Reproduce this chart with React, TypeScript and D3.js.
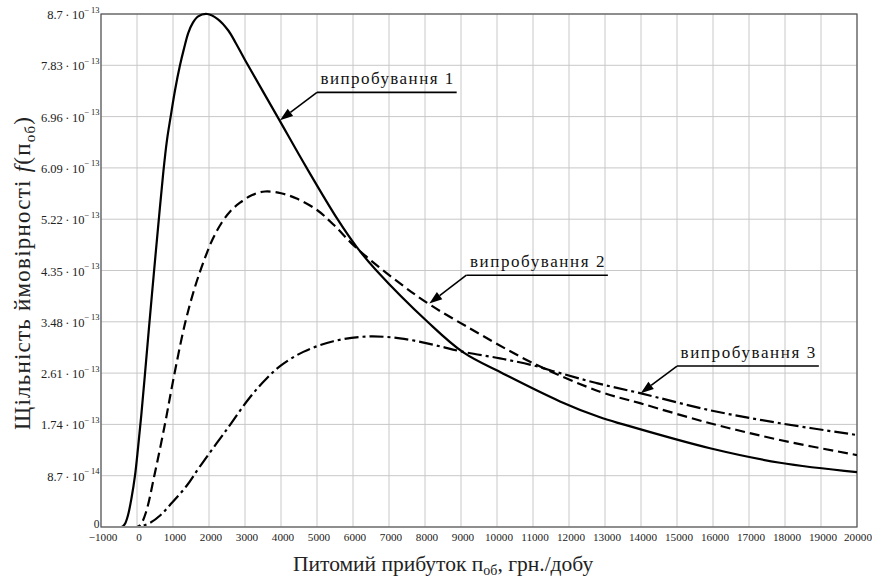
import React from "react";
import * as d3 from "d3";

const WIDTH = 872;
const HEIGHT = 580;
const PLOT = { left: 101, right: 857, top: 14, bottom: 527 };

// x axis: specific profit, UAH per day
const xDomain: [number, number] = [-1000, 20000];
const xTickValues = d3.range(-1000, 20001, 1000);
const xTickLabels = xTickValues.map((v) => (v < 0 ? `\u2212${Math.abs(v)}` : `${v}`));

// y axis: probability density, in units of 1e-13
const yDomain: [number, number] = [0, 8.7];
const yTickValues = [0, 0.87, 1.74, 2.61, 3.48, 4.35, 5.22, 6.09, 6.96, 7.83, 8.7];
const yTickMantissas = ["0", "8.7", "1.74", "2.61", "3.48", "4.35", "5.22", "6.09", "6.96", "7.83", "8.7"];
const yTickExponents = ["", "\u2212\u200914", "\u2212\u200913", "\u2212\u200913", "\u2212\u200913", "\u2212\u200913", "\u2212\u200913", "\u2212\u200913", "\u2212\u200913", "\u2212\u200913", "\u2212\u200913"];

// density curves, [profit, density·1e13]
const trial1: [number, number][] = [
  [-1000, 0], [-700, 0], [-430, 0], [-340, 0.05], [-250, 0.2], [-150, 0.5], [-56, 0.87],
  [30, 1.35], [120, 1.9], [222, 2.6], [333, 3.38], [465, 4.28], [600, 5.18], [731, 6.02],
  [830, 6.55], [935, 6.96], [1060, 7.42], [1194, 7.83], [1300, 8.1], [1425, 8.38],
  [1550, 8.55], [1700, 8.66], [1950, 8.7], [2250, 8.61], [2536, 8.42], [2750, 8.2],
  [3000, 7.92], [3900, 6.96], [4713, 6.09], [5570, 5.22], [6100, 4.75], [6650, 4.35],
  [8070, 3.48], [9065, 2.96], [10175, 2.6], [11750, 2.13], [12861, 1.86], [13508, 1.74],
  [15917, 1.335], [17861, 1.09], [20000, 0.93],
];
const trial2: [number, number][] = [
  [-1000, 0], [-300, 0], [0, 0], [100, 0.04], [250, 0.25], [481, 0.87], [778, 1.75],
  [1009, 2.5], [1333, 3.45], [1600, 4.05], [1850, 4.5], [2100, 4.88], [2352, 5.16],
  [2600, 5.36], [2861, 5.5], [3200, 5.63], [3556, 5.69], [4000, 5.66], [4435, 5.57],
  [4991, 5.38], [5454, 5.13], [6100, 4.73], [7306, 4.13], [8139, 3.77], [9157, 3.4],
  [11009, 2.776], [12861, 2.295], [13972, 2.1], [15917, 1.76], [17861, 1.475], [20000, 1.22],
];
const trial3: [number, number][] = [
  [-1000, 0], [-200, 0], [0, 0], [150, 0.02], [361, 0.07], [650, 0.2], [917, 0.373],
  [1380, 0.7], [1750, 1.03], [2500, 1.66], [3139, 2.2], [3600, 2.52], [4000, 2.74],
  [4620, 2.97], [5454, 3.15], [6380, 3.23], [7306, 3.2], [8231, 3.09], [9065, 2.97],
  [10083, 2.86], [11009, 2.74], [11750, 2.61], [12769, 2.44], [13972, 2.27], [15917, 1.98],
  [17861, 1.76], [20000, 1.56],
];

const seriesData = [trial1, trial2, trial3];
const seriesDash = ["", "10,5", "14,4,3,4"];

// callouts: label, arrow tip on the curve, shelf [x start, x end, level]
const calloutLabels = ["випробування 1", "випробування 2", "випробування 3"];
const calloutTips: [number, number][] = [[3972, 6.9], [8119, 3.79], [13992, 2.27]];
const calloutShelves: [number, number, number][] = [
  [5000, 8880, 7.37],
  [9150, 13080, 4.27],
  [15000, 18940, 2.73],
];

const SERIF = "'Liberation Serif', 'Times New Roman', serif";

export default function App() {
  const x = d3.scaleLinear().domain(xDomain).range([PLOT.left, PLOT.right]);
  const y = d3.scaleLinear().domain(yDomain).range([PLOT.bottom, PLOT.top]);

  const line = d3
    .line<[number, number]>()
    .x((d) => x(d[0]))
    .y((d) => y(d[1]))
    .curve(d3.curveCatmullRom.alpha(0.5));

  return (
    <svg
      width={WIDTH}
      height={HEIGHT}
      viewBox={`0 0 ${WIDTH} ${HEIGHT}`}
      style={{ position: "absolute", left: 0, top: 0, background: "#fff", fontFamily: SERIF }}
    >
      <defs>
        <clipPath id="plot-clip">
          <rect x={PLOT.left} y={PLOT.top - 2} width={PLOT.right - PLOT.left} height={PLOT.bottom - PLOT.top + 1} />
        </clipPath>
      </defs>

      {/* grid */}
      <g stroke="#c8c8c8" strokeWidth={1}>
        {xTickValues.map((v) => (
          <line key={`gx${v}`} x1={x(v)} x2={x(v)} y1={PLOT.top} y2={PLOT.bottom} />
        ))}
        {yTickValues.map((v) => (
          <line key={`gy${v}`} x1={PLOT.left} x2={PLOT.right} y1={y(v)} y2={y(v)} />
        ))}
      </g>

      {/* frame */}
      <rect
        x={PLOT.left}
        y={PLOT.top}
        width={PLOT.right - PLOT.left}
        height={PLOT.bottom - PLOT.top}
        fill="none"
        stroke="#555"
        strokeWidth={1.2}
      />

      {/* curves */}
      <g clipPath="url(#plot-clip)" fill="none" stroke="#000" strokeWidth={2.2} strokeLinejoin="round">
        {seriesData.map((d, i) => (
          <path key={i} d={line(d) ?? ""} strokeDasharray={seriesDash[i] || undefined} />
        ))}
      </g>

      {/* callouts */}
      {calloutLabels.map((label, i) => {
        const [tx, ty] = calloutTips[i];
        const [s0, s1, sl] = calloutShelves[i];
        const px = x(tx);
        const py = y(ty);
        const ax = x(s0);
        const ay = y(sl);
        const bx = x(s1);
        const dx = px - ax;
        const dy = py - ay;
        const len = Math.hypot(dx, dy);
        const ux = dx / len;
        const uy = dy / len;
        const headLen = 13;
        const headHalf = 4.5;
        const hx = px - ux * headLen;
        const hy = py - uy * headLen;
        const head = [
          [px, py],
          [hx - uy * headHalf, hy + ux * headHalf],
          [hx + uy * headHalf, hy - ux * headHalf],
        ]
          .map((p) => p.join(","))
          .join(" ");
        return (
          <g key={label}>
            <line x1={ax} y1={ay} x2={bx} y2={ay} stroke="#000" strokeWidth={1.6} />
            <line x1={ax} y1={ay} x2={hx} y2={hy} stroke="#000" strokeWidth={1.6} />
            <polygon points={head} fill="#000" />
            <text
              x={ax + 3.5}
              y={ay - 8}
              fontSize={17}
              textLength={bx - ax - 7}
              lengthAdjust="spacing"
              fill="#111"
            >
              {label}
            </text>
          </g>
        );
      })}

      {/* y tick labels */}
      <g fill="#222">
        {yTickValues.map((v, i) =>
          i === 0 ? (
            <text key={`yl${i}`} x={99.5} y={y(v) + 1} fontSize={11.5} textAnchor="end">
              {yTickMantissas[i]}
            </text>
          ) : (
            <text key={`yl${i}`} x={99.5} y={y(v) + 5} fontSize={12.5} textAnchor="end">
              {`${yTickMantissas[i]}\u2009·\u200910`}
              <tspan dy={-6.5} fontSize={8.5}>
                {yTickExponents[i]}
              </tspan>
            </text>
          )
        )}
      </g>

      {/* x tick labels */}
      <g fill="#222">
        {xTickValues.map((v, i) => (
          <text
            key={`xl${v}`}
            x={Math.min(x(v) + 2, WIDTH - 14)}
            y={541}
            fontSize={11.2}
            textAnchor="middle"
          >
            {xTickLabels[i]}
          </text>
        ))}
      </g>

      {/* axis titles */}
      <text
        transform={`translate(30, 430) rotate(-90)`}
        fontSize={23}
        fill="#222"
        textLength={313}
        lengthAdjust="spacing"
      >
        Щільність ймовірності <tspan fontStyle="italic">f</tspan>(п
        <tspan fontSize={15} dy={5}>об</tspan>
        <tspan dy={-5}>)</tspan>
      </text>

      <text x={293} y={571} fontSize={21.5} fill="#222">
        Питомий прибуток п<tspan fontSize={14} dy={4}>об</tspan>
        <tspan dy={-4}>, грн./добу</tspan>
      </text>
    </svg>
  );
}
